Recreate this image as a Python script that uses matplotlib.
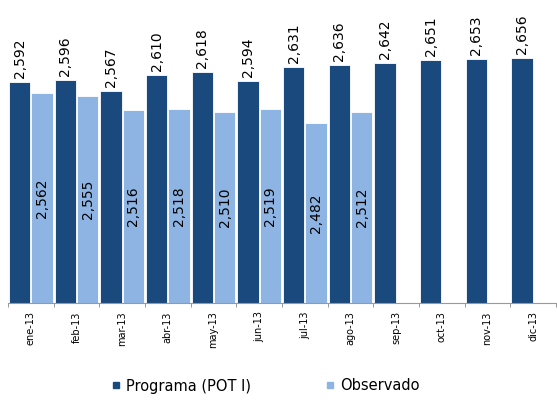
import matplotlib
matplotlib.use("Agg")
import matplotlib.pyplot as plt
import numpy as np
from matplotlib.lines import Line2D

months = ["ene-13", "feb-13", "mar-13", "abr-13", "may-13", "jun-13",
          "jul-13", "ago-13", "sep-13", "oct-13", "nov-13", "dic-13"]
programa = [2592, 2596, 2567, 2610, 2618, 2594, 2631, 2636, 2642, 2651, 2653, 2656]
observado = [2562, 2555, 2516, 2518, 2510, 2519, 2482, 2512]

dark = "#19497D"
light = "#8DB4E2"
y_min, y_max = 2000, 2800

fig = plt.figure(figsize=(5.57, 4.09), dpi=100)
ax = fig.add_axes([8 / 557, (409 - 303) / 409, 548 / 557, 299 / 409])

x = np.arange(len(months))
w = 0.47
off = 0.245
ax.bar(x - off, [v - y_min for v in programa], w, bottom=y_min,
       color=dark, edgecolor="white", linewidth=0.6)
xo = x[:len(observado)]
ax.bar(xo + off, [v - y_min for v in observado], w, bottom=y_min,
       color=light, edgecolor="white", linewidth=0.6)

# etiquetas de valores
for xi, v in zip(x, programa):
    ax.annotate(f"{v:,}", (xi - off, v), xytext=(0, 3), textcoords="offset points",
                rotation=90, ha="center", va="bottom", fontsize=10)
for xi, v in zip(xo, observado):
    ax.text(xi + off, (y_min + v) / 2, f"{v:,}", rotation=90,
            ha="center", va="center", fontsize=10)

ax.set_xlim(-0.5, len(months) - 0.5)
ax.set_ylim(y_min, y_max)
ax.set_xticks(x)
ax.set_xticklabels(months, rotation=90, fontsize=7)
ax.tick_params(axis="x", which="major", length=0, pad=6)
ax.set_xticks(np.arange(-0.5, len(months)), minor=True)
ax.tick_params(axis="x", which="minor", length=3, color="#888888", direction="out")
ax.set_yticks([])
for s in ["left", "right", "top"]:
    ax.spines[s].set_visible(False)
ax.spines["bottom"].set_color("#999999")

handles = [Line2D([], [], marker="s", linestyle="none", color=dark, markersize=5),
           Line2D([], [], marker="s", linestyle="none", color=light, markersize=5)]
fig.legend(handles, ["Programa (POT I)", "Observado"], loc="center",
           bbox_to_anchor=(266 / 557, 1 - 386 / 409), ncol=2, frameon=False,
           fontsize=10.5, handlelength=0.5, handletextpad=0.4, columnspacing=5.2)

fig.savefig("out.png", dpi=100)
